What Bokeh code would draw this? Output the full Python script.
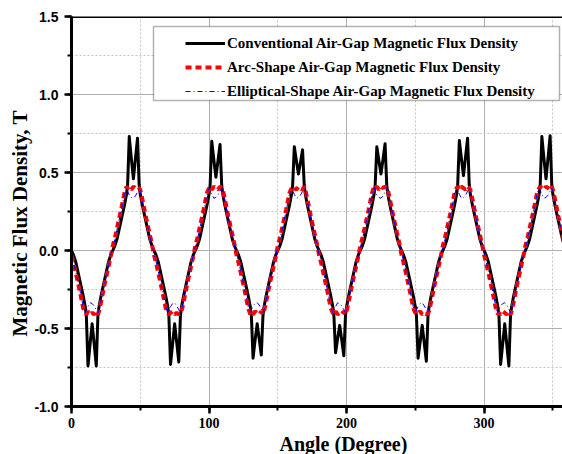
from bokeh.plotting import figure
from bokeh.models import (Range1d, SingleIntervalTicker, PrintfTickFormatter, Title,
                          Span, BoxAnnotation, Legend, LegendItem)
from bokeh.embed import file_html
from bokeh.resources import INLINE

# ---------------- data ----------------
angle = [
    0, 1.5, 3, 6, 8.5, 10, 10.8, 12, 13.5, 15, 16.5, 18, 19.2, 20, 21.5, 24, 27, 28.5,
    30, 31.5, 33, 36, 38.5, 40, 40.8, 42, 43.5, 45, 46.5, 48, 49.2, 50, 51.5, 54, 57, 58.5,
    60, 61.5, 63, 66, 68.5, 70, 70.8, 72, 73.5, 75, 76.5, 78, 79.2, 80, 81.5, 84, 87, 88.5,
    90, 91.5, 93, 96, 98.5, 100, 100.8, 102, 103.5, 105, 106.5, 108, 109.2, 110, 111.5, 114, 117, 118.5,
    120, 121.5, 123, 126, 128.5, 130, 130.8, 132, 133.5, 135, 136.5, 138, 139.2, 140, 141.5, 144, 147, 148.5,
    150, 151.5, 153, 156, 158.5, 160, 160.8, 162, 163.5, 165, 166.5, 168, 169.2, 170, 171.5, 174, 177, 178.5,
    180, 181.5, 183, 186, 188.5, 190, 190.8, 192, 193.5, 195, 196.5, 198, 199.2, 200, 201.5, 204, 207, 208.5,
    210, 211.5, 213, 216, 218.5, 220, 220.8, 222, 223.5, 225, 226.5, 228, 229.2, 230, 231.5, 234, 237, 238.5,
    240, 241.5, 243, 246, 248.5, 250, 250.8, 252, 253.5, 255, 256.5, 258, 259.2, 260, 261.5, 264, 267, 268.5,
    270, 271.5, 273, 276, 278.5, 280, 280.8, 282, 283.5, 285, 286.5, 288, 289.2, 290, 291.5, 294, 297, 298.5,
    300, 301.5, 303, 306, 308.5, 310, 310.8, 312, 313.5, 315, 316.5, 318, 319.2, 320, 321.5, 324, 327, 328.5,
    330, 331.5, 333, 336, 338.5, 340, 340.8, 342, 343.5, 345, 346.5, 348, 349.2, 350, 351.5, 354, 357, 358.5,
    360,
]

b_conventional = [
    0.0, -0.03, -0.07, -0.19, -0.29, -0.36, -0.42, -0.74, -0.60, -0.47, -0.60, -0.74, -0.42, -0.36, -0.29, -0.19, -0.07, -0.03,
    0.0, 0.03, 0.07, 0.19, 0.29, 0.36, 0.42, 0.73, 0.59, 0.46, 0.59, 0.72, 0.42, 0.36, 0.29, 0.19, 0.07, 0.03,
    0.0, -0.03, -0.07, -0.19, -0.29, -0.36, -0.42, -0.73, -0.60, -0.47, -0.59, -0.715, -0.42, -0.36, -0.29, -0.19, -0.07, -0.03,
    0.0, 0.03, 0.07, 0.19, 0.29, 0.36, 0.42, 0.70, 0.58, 0.47, 0.575, 0.68, 0.42, 0.36, 0.29, 0.19, 0.07, 0.03,
    0.0, -0.03, -0.07, -0.19, -0.29, -0.36, -0.42, -0.69, -0.575, -0.47, -0.57, -0.67, -0.42, -0.36, -0.29, -0.19, -0.07, -0.03,
    0.0, 0.03, 0.07, 0.19, 0.29, 0.36, 0.42, 0.665, 0.575, 0.49, 0.565, 0.645, 0.42, 0.36, 0.29, 0.19, 0.07, 0.03,
    0.0, -0.03, -0.07, -0.19, -0.29, -0.36, -0.42, -0.655, -0.565, -0.48, -0.575, -0.675, -0.42, -0.36, -0.29, -0.19, -0.07, -0.03,
    0.0, 0.03, 0.07, 0.19, 0.29, 0.36, 0.42, 0.665, 0.575, 0.49, 0.585, 0.685, 0.42, 0.36, 0.29, 0.19, 0.07, 0.03,
    0.0, -0.03, -0.07, -0.19, -0.29, -0.36, -0.42, -0.69, -0.585, -0.48, -0.595, -0.71, -0.42, -0.36, -0.29, -0.19, -0.07, -0.03,
    0.0, 0.03, 0.07, 0.19, 0.29, 0.36, 0.42, 0.705, 0.59, 0.48, 0.60, 0.72, 0.42, 0.36, 0.29, 0.19, 0.07, 0.03,
    0.0, -0.03, -0.07, -0.19, -0.29, -0.36, -0.42, -0.73, -0.60, -0.47, -0.605, -0.74, -0.42, -0.36, -0.29, -0.19, -0.07, -0.03,
    0.0, 0.03, 0.07, 0.19, 0.29, 0.36, 0.42, 0.73, 0.59, 0.46, 0.595, 0.735, 0.42, 0.36, 0.29, 0.19, 0.07, 0.03,
    0.0,
]

b_arc = [
    -0.03, -0.08, -0.14, -0.26, -0.37, -0.40, -0.41, -0.39, -0.41, -0.40, -0.41, -0.39, -0.41, -0.39, -0.33, -0.22, -0.10, -0.04,
    0.03, 0.08, 0.14, 0.26, 0.37, 0.41, 0.40, 0.41, 0.39, 0.41, 0.40, 0.41, 0.40, 0.39, 0.33, 0.22, 0.10, 0.04,
    -0.03, -0.08, -0.14, -0.26, -0.37, -0.40, -0.41, -0.40, -0.39, -0.41, -0.40, -0.41, -0.40, -0.39, -0.33, -0.22, -0.10, -0.04,
    0.03, 0.08, 0.14, 0.26, 0.37, 0.40, 0.41, 0.39, 0.41, 0.40, 0.39, 0.41, 0.40, 0.39, 0.33, 0.22, 0.10, 0.04,
    -0.03, -0.08, -0.14, -0.26, -0.37, -0.41, -0.40, -0.41, -0.39, -0.40, -0.41, -0.39, -0.41, -0.39, -0.33, -0.22, -0.10, -0.04,
    0.03, 0.08, 0.14, 0.26, 0.37, 0.40, 0.41, 0.40, 0.39, 0.41, 0.40, 0.39, 0.41, 0.39, 0.33, 0.22, 0.10, 0.04,
    -0.03, -0.08, -0.14, -0.26, -0.37, -0.40, -0.41, -0.39, -0.41, -0.40, -0.41, -0.39, -0.41, -0.39, -0.33, -0.22, -0.10, -0.04,
    0.03, 0.08, 0.14, 0.26, 0.37, 0.41, 0.40, 0.41, 0.39, 0.41, 0.40, 0.41, 0.40, 0.39, 0.33, 0.22, 0.10, 0.04,
    -0.03, -0.08, -0.14, -0.26, -0.37, -0.40, -0.41, -0.40, -0.39, -0.41, -0.40, -0.41, -0.40, -0.39, -0.33, -0.22, -0.10, -0.04,
    0.03, 0.08, 0.14, 0.26, 0.37, 0.40, 0.41, 0.39, 0.41, 0.40, 0.39, 0.41, 0.40, 0.39, 0.33, 0.22, 0.10, 0.04,
    -0.03, -0.08, -0.14, -0.26, -0.37, -0.41, -0.40, -0.41, -0.39, -0.40, -0.41, -0.39, -0.41, -0.39, -0.33, -0.22, -0.10, -0.04,
    0.03, 0.08, 0.14, 0.26, 0.37, 0.40, 0.41, 0.40, 0.39, 0.41, 0.40, 0.39, 0.41, 0.39, 0.33, 0.22, 0.10, 0.04,
    -0.03,
]

b_elliptical = [
    -0.02, -0.07, -0.13, -0.25, -0.36, -0.40, -0.385, -0.36, -0.335, -0.34, -0.355, -0.38, -0.40, -0.38, -0.32, -0.21, -0.09, -0.03,
    0.02, 0.07, 0.13, 0.25, 0.36, 0.40, 0.38, 0.355, 0.34, 0.335, 0.35, 0.375, 0.40, 0.38, 0.32, 0.21, 0.09, 0.03,
    -0.02, -0.07, -0.13, -0.25, -0.36, -0.40, -0.38, -0.36, -0.34, -0.335, -0.355, -0.38, -0.40, -0.38, -0.32, -0.21, -0.09, -0.03,
    0.02, 0.07, 0.13, 0.25, 0.36, 0.40, 0.385, 0.36, 0.335, 0.34, 0.355, 0.38, 0.40, 0.38, 0.32, 0.21, 0.09, 0.03,
    -0.02, -0.07, -0.13, -0.25, -0.36, -0.40, -0.38, -0.355, -0.34, -0.335, -0.35, -0.375, -0.40, -0.38, -0.32, -0.21, -0.09, -0.03,
    0.02, 0.07, 0.13, 0.25, 0.36, 0.40, 0.385, 0.36, 0.335, 0.34, 0.355, 0.38, 0.40, 0.38, 0.32, 0.21, 0.09, 0.03,
    -0.02, -0.07, -0.13, -0.25, -0.36, -0.40, -0.385, -0.36, -0.335, -0.34, -0.355, -0.38, -0.40, -0.38, -0.32, -0.21, -0.09, -0.03,
    0.02, 0.07, 0.13, 0.25, 0.36, 0.40, 0.38, 0.355, 0.34, 0.335, 0.35, 0.375, 0.40, 0.38, 0.32, 0.21, 0.09, 0.03,
    -0.02, -0.07, -0.13, -0.25, -0.36, -0.40, -0.38, -0.36, -0.34, -0.335, -0.355, -0.38, -0.40, -0.38, -0.32, -0.21, -0.09, -0.03,
    0.02, 0.07, 0.13, 0.25, 0.36, 0.40, 0.385, 0.36, 0.335, 0.34, 0.355, 0.38, 0.40, 0.38, 0.32, 0.21, 0.09, 0.03,
    -0.02, -0.07, -0.13, -0.25, -0.36, -0.40, -0.38, -0.355, -0.34, -0.335, -0.35, -0.375, -0.40, -0.38, -0.32, -0.21, -0.09, -0.03,
    0.02, 0.07, 0.13, 0.25, 0.36, 0.40, 0.385, 0.36, 0.335, 0.34, 0.355, 0.38, 0.40, 0.38, 0.32, 0.21, 0.09, 0.03,
    -0.02,
]

series_labels = [
    "Conventional Air-Gap Magnetic Flux Density",
    "Arc-Shape Air-Gap Magnetic Flux Density",
    "Elliptical-Shape Air-Gap Magnetic Flux Density",
]
x_title = "Angle (Degree)"
y_title = "Magnetic Flux Density, T"

# ---------------- figure ----------------
SERIF = "Liberation Serif"
SANS = "Liberation Sans"

p = figure(width=562, height=454, output_backend="svg", toolbar_location=None,
           x_range=Range1d(0, 357), y_range=Range1d(-1.0, 1.5),
           min_border_left=71, min_border_right=0, min_border_top=16, min_border_bottom=47)
p.outline_line_color = None
p.background_fill_color = "white"
p.border_fill_color = "white"

p.xaxis.ticker = SingleIntervalTicker(interval=100, num_minor_ticks=2)
p.yaxis.ticker = SingleIntervalTicker(interval=0.5, num_minor_ticks=2)
p.yaxis.formatter = PrintfTickFormatter(format="%.1f")

for ax in (p.xaxis[0], p.yaxis[0]):
    ax.axis_line_width = 3
    ax.axis_line_color = "black"
    ax.major_tick_line_width = 2.5
    ax.major_tick_line_color = "black"
    ax.minor_tick_line_width = 2
    ax.minor_tick_line_color = "black"
    ax.major_tick_in = 0
    ax.major_tick_out = 7
    ax.minor_tick_in = 0
    ax.minor_tick_out = 4
    ax.major_label_text_font_style = "bold"
    ax.major_label_text_color = "black"

p.xaxis.major_label_text_font = SERIF
p.xaxis.major_label_text_font_size = "14px"
p.xaxis.major_label_standoff = 4
p.yaxis.major_label_text_font = SANS
p.yaxis.major_label_text_font_size = "14px"
p.yaxis.major_label_standoff = 6

p.grid.grid_line_color = "#b0b0b0"
p.grid.grid_line_width = 1
p.grid.minor_grid_line_color = "#c4c4c4"
p.grid.minor_grid_line_dash = "2 2"
p.grid.minor_grid_line_width = 1

# top frame line
p.add_layout(Span(location=1.5, dimension="width", line_color="black", line_width=3))

r_conv = p.line(angle, b_conventional, line_color="black", line_width=3, line_join="round")
r_arc = p.line(angle, b_arc, line_color="red", line_width=4, line_dash="6 4")
r_ell = p.line(angle, b_elliptical, line_color="blue", line_width=1, line_dash="5 3 1 3")

# legend frame box
p.add_layout(BoxAnnotation(left=82, right=488, top=380, bottom=306,
                           left_units="screen", right_units="screen",
                           top_units="screen", bottom_units="screen",
                           fill_color="white", fill_alpha=1.0,
                           line_color="black", line_width=1.5))

legend = Legend(items=[LegendItem(label=series_labels[0], renderers=[r_conv]),
                       LegendItem(label=series_labels[1], renderers=[r_arc]),
                       LegendItem(label=series_labels[2], renderers=[r_ell])],
                location=(114, 305), padding=0, margin=0, spacing=4,
                glyph_width=40, glyph_height=20, label_height=20, label_standoff=2,
                border_line_alpha=0, background_fill_alpha=0,
                label_text_font=SERIF, label_text_font_style="bold",
                label_text_font_size="15px", label_text_color="black")
p.add_layout(legend)

# axis titles as side-panel titles (not clipped by the frame)
p.add_layout(Title(text=x_title, align="left", offset=208, standoff=0,
                   text_font=SERIF, text_font_style="bold", text_font_size="20px",
                   text_color="black"), "below")
p.add_layout(Title(text=y_title, align="left", offset=70, standoff=0,
                   text_font=SERIF, text_font_style="bold", text_font_size="21px",
                   text_color="black"), "left")

open("out.html", "w").write(file_html(p, INLINE))
